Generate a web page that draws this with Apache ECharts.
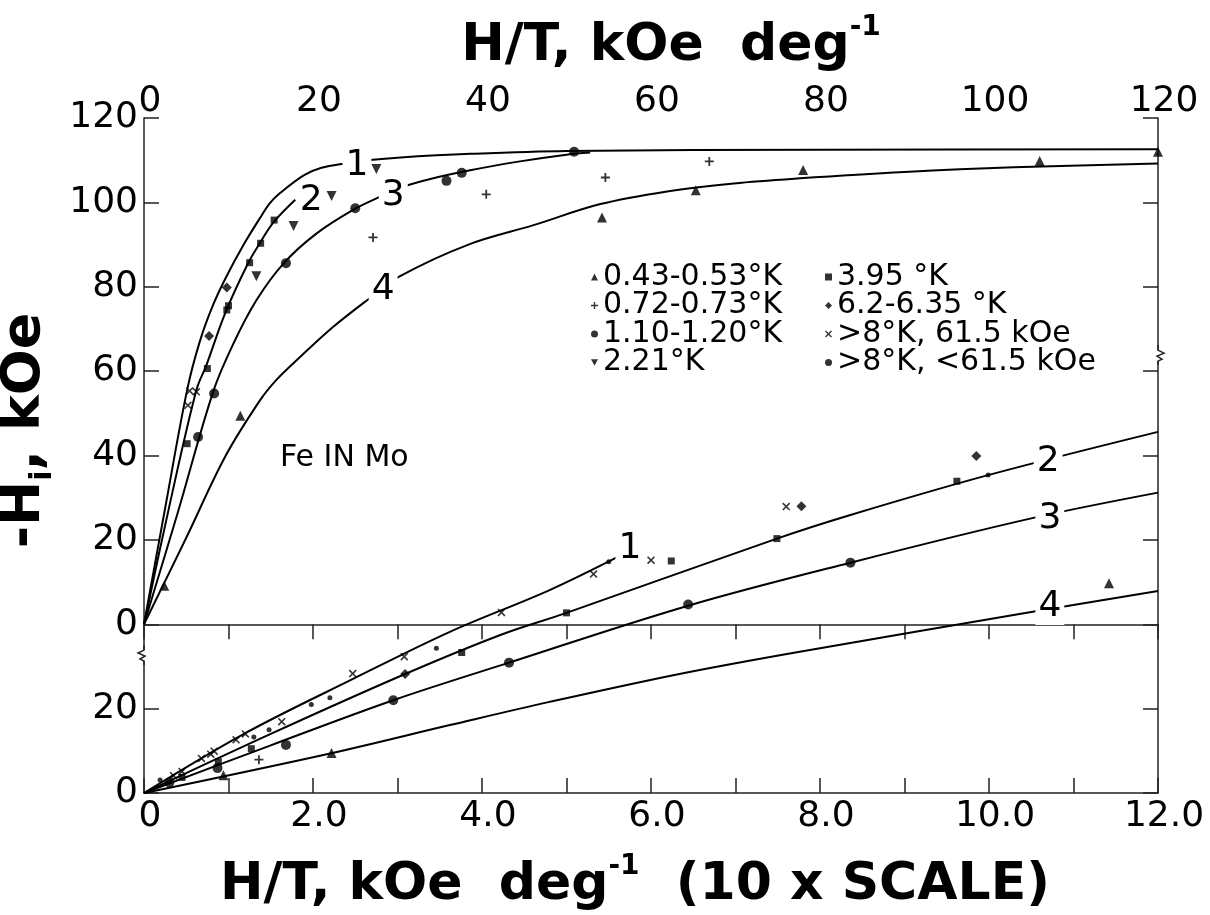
<!DOCTYPE html>
<html>
<head>
<meta charset="utf-8">
<script src="https://cdn.jsdelivr.net/npm/echarts@6/dist/echarts.min.js"></script>
<style>
html, body { margin: 0; background: #fff; }
#main { width: 1210px; height: 915px; }
</style>
</head>
<body>
<div id="main"></div>
<script>
// upper set: top scale H/T (0-120), -Hi (upper scale 0-120)
var curveU1 = [[0,0],[2.5,27.5],[5.1,55.5],[6.6,67],[8.2,75.8],[9.8,82.6],[11.8,90],[13.7,96.2],[14.9,99.8],[16.1,102.2],[18.9,106.4],[21,108.2],[24,109.3],[26.4,110],[30,110.6],[38.6,111.5],[50,112.2],[80,112.5],[120,112.6]];
var curveU2 = [[0,0],[3,28],[6.2,55.5],[7.4,61.5],[9.6,73.7],[12.3,85.5],[13.7,90.3],[15.3,95.2],[17.9,100.6]];
var curveU3 = [[0,0],[4,26.5],[8.2,55.2],[10.6,66.6],[13.3,76.8],[16.5,85.5],[20.4,92.6],[25,98.5],[27.9,101.3],[30.7,103.7],[34,105.6],[38.6,107.6],[44.1,109.6],[50,111.3],[52.8,111.8]];
var curveU4 = [[0,0],[5,20.5],[9.6,39.7],[13.7,53],[15.7,58],[18.5,63.4],[22.4,70.5],[26.4,76.8],[30.3,82.5],[38.4,90],[46.1,94.6],[54,99.6],[61.9,102.6],[69.8,104.5],[77.6,105.7],[90,107.2],[102.9,108.3],[120,109.2]];
var labelU = [['1',25.2,108.8],['2',19.8,100.5],['3',29.5,101.7],['4',28.3,79.2]];

// lower set: bottom scale H/T (0-12, 10 x scale), -Hi lower scale
var curveL1 = [[0,0],[1.2,14.2],[2.48,27.1],[3.62,38.2],[4.8,48.1],[5.63,56.2]];
var curveL2 = [[0,0],[1.5,14],[3.09,28.2],[4.21,37.4],[5,42.7],[7.49,60.3],[8.36,65.9],[10,75.4],[12,85.6]];
var curveL3 = [[0,0],[1.5,11.3],[2.95,22],[4.32,30.9],[6.44,44.4],[8.36,54.6],[10.5,65.1],[12,71.2]];
var curveL4 = [[0,0],[2.23,9.5],[3.62,16.1],[4.8,21.6],[6.38,28.4],[7.76,33.5],[10.5,42.9],[12,47.9]];
var labelL = [['1',5.75,58.0],['2',10.7,78.5],['3',10.72,65.1],['4',10.72,44.1]];

// measured points, by temperature
var names = ['0.43-0.53°K','0.72-0.73°K','1.10-1.20°K','2.21°K','3.95 °K','6.2-6.35 °K','>8°K, 61.5 kOe','>8°K, <61.5 kOe'];
var ptsU = [
  [[2.4,9.1],[11.4,49.4],[54.2,96.4],[65.3,102.9],[78.0,107.7],[106.0,109.8],[120,112]],
  [[27.1,91.7],[40.5,101.9],[54.6,105.9],[66.9,109.7]],
  [[6.4,44.4],[8.3,54.7],[16.8,85.6],[25.0,98.6],[35.8,105.1],[37.6,107.0],[50.9,112.0]],
  [[13.3,82.5],[17.7,94.4],[22.2,101.5],[27.5,107.9]],
  [[5.1,42.8],[7.5,60.6],[9.8,74.5],[10.0,75.5],[12.5,85.7],[13.8,90.3],[15.4,95.8]],
  [[7.7,68.3],[9.8,79.8]],
  [[5.2,51.9],[5.4,55.3],[6.2,55.1]],
  []
];
var ptsL = [
  [[0.94,4.2],[2.22,9.5],[11.42,49.7]],
  [[1.36,7.9]],
  [[0.3,2.5],[0.87,5.9],[1.68,11.4],[2.95,22.0],[4.32,30.9],[6.44,44.7],[8.36,54.6]],
  [],
  [[0.45,3.7],[0.88,7.4],[1.27,10.5],[3.76,33.3],[5.0,42.7],[6.24,55.0],[7.49,60.3],[9.62,73.9]],
  [[3.09,28.2],[7.78,68.0],[9.85,79.9]],
  [[0.35,4.1],[0.45,5.1],[0.68,8.2],[0.79,9.2],[0.83,9.9],[1.09,12.6],[1.20,14.0],[1.63,16.9],[2.47,28.3],[3.08,32.3],[4.23,42.8],[5.32,51.9],[6.0,55.2],[7.6,67.9]],
  [[0.19,3.1],[1.30,13.3],[1.48,15.0],[1.98,21.0],[2.20,22.6],[3.46,34.3],[5.50,54.8],[9.99,75.4]]
];
var symbols = ['triangle','path://M4,0h2v10h-2z M0,4h10v2h-10z','circle','path://M0,0 L10,0 L5,9 Z','rect','diamond',
  'path://M0,1.4 L1.4,0 L10,8.6 L8.6,10 Z M8.6,0 L10,1.4 L1.4,10 L0,8.6 Z','circle'];
var sizes = [10, 9, 10, 10, 7, 10, 8, 5];

var FONT = 'DejaVu Sans';
var chart = echarts.init(document.getElementById('main'));

function curve(data, labels, upper) {
  return {
    type: 'line',
    xAxisIndex: upper ? 1 : 0,
    yAxisIndex: upper ? 1 : 0,
    data: data,
    showSymbol: false,
    smooth: 0.35,
    lineStyle: { color: '#000', width: 2 },
    z: 2,
    markPoint: {
      symbol: 'rect', symbolSize: 1,
      itemStyle: { color: 'rgba(0,0,0,0)' },
      label: { show: true, position: 'inside', formatter: '{b}', color: '#000', fontSize: 36,
        fontFamily: FONT, backgroundColor: '#fff', padding: [0, 3] },
      data: [{ name: labels[0], coord: [labels[1], labels[2]] }]
    }
  };
}

var series = [];
[curveU1, curveU2, curveU3, curveU4].forEach(function (c, i) { series.push(curve(c, labelU[i], true)); });
[curveL1, curveL2, curveL3, curveL4].forEach(function (c, i) { series.push(curve(c, labelL[i], false)); });
names.forEach(function (n, i) {
  [true, false].forEach(function (upper) {
    series.push({
      name: n, type: 'scatter',
      xAxisIndex: upper ? 1 : 0, yAxisIndex: upper ? 1 : 0,
      symbol: symbols[i], symbolSize: sizes[i],
      itemStyle: { color: '#000' },
      data: upper ? ptsU[i] : ptsL[i], z: 5
    });
  });
});

var tickStyle = { inside: true, length: 15, lineStyle: { color: '#222', width: 1.5 } };
var lineStyle = { show: true, lineStyle: { color: '#222', width: 1.5 } };
var labelStyle = { color: '#000', fontSize: 36, fontFamily: FONT };
function titleRich(size) {
  return {
    t: { fontSize: size, fontWeight: 'bold', fontFamily: FONT, color: '#000', lineHeight: size + 12 },
    sup: { fontSize: 28, fontWeight: 'bold', fontFamily: FONT, color: '#000', verticalAlign: 'top', lineHeight: 20 },
    sub: { fontSize: 30, fontWeight: 'bold', fontFamily: FONT, color: '#000', verticalAlign: 'bottom', lineHeight: 20 }
  };
}

var legendBase = {
  orient: 'vertical', itemGap: -1.5, itemWidth: 7, itemHeight: 7, selectedMode: false,
  textStyle: { fontSize: 30, color: '#000', fontFamily: FONT }
};

var option = {
  backgroundColor: '#fff',
  animation: false,
  grid: { left: 144, right: 52, top: 118, bottom: 122, containLabel: false, outerBoundsMode: 'none' },
  legend: [
    Object.assign({ data: names.slice(0, 4), left: 586, top: 257 }, legendBase),
    Object.assign({ data: names.slice(4), left: 820, top: 257 }, legendBase)
  ],
  xAxis: [
    {
      type: 'value', position: 'bottom', min: 0, max: 12, interval: 1,
      axisLine: lineStyle, axisTick: tickStyle, splitLine: { show: false },
      axisLabel: Object.assign({ margin: 6, padding: [0, 0, 0, 12],
        formatter: function (v) { return v === 0 ? '0' : (Math.round(v) % 2 === 0 ? v.toFixed(1) : ''); } }, labelStyle),
      name: '{t|H/T, kOe  deg}{sup|-1}{t|  (10 x SCALE)}',
      nameLocation: 'middle', nameGap: 60,
      nameTextStyle: { rich: titleRich(52), padding: [0, 32, 0, 0] }
    },
    {
      type: 'value', position: 'top', min: 0, max: 120, interval: 10,
      axisLine: lineStyle, axisTick: tickStyle, splitLine: { show: false },
      axisLabel: Object.assign({ margin: -2, padding: [0, 0, 0, 12],
        formatter: function (v) { return Math.round(v) % 20 === 0 ? String(v) : ''; } }, labelStyle),
      name: '{t|H/T, kOe  deg}{sup|-1}',
      nameLocation: 'middle', nameGap: 40,
      nameTextStyle: { rich: titleRich(52), padding: [0, 0, 0, 40] }
    }
  ],
  yAxis: [
    {
      type: 'value', position: 'left', min: 0, max: 160, interval: 20,
      axisLine: lineStyle, axisTick: tickStyle, splitLine: { show: false },
      axisLabel: Object.assign({ margin: 6, formatter: function (v) { return v < 40 ? String(v) : ''; } }, labelStyle),
      name: '{t|-H}{sub|i}{t|, kOe}',
      nameLocation: 'middle', nameGap: 86,
      nameTextStyle: { rich: titleRich(54), padding: [0, 0, 0, 50] }
    },
    {
      type: 'value', position: 'left', min: -40, max: 120, interval: 20,
      axisLine: { show: false }, axisTick: { show: false }, splitLine: { show: false },
      axisLabel: Object.assign({ margin: 6, formatter: function (v) { return v >= 0 ? String(v) : ''; } }, labelStyle)
    },
    {
      type: 'value', position: 'right', min: 0, max: 160, interval: 20,
      axisLine: lineStyle, axisTick: tickStyle, splitLine: { show: false },
      axisLabel: { show: false }
    }
  ],
  graphic: [
    { type: 'text', left: 280, top: 443, style: { text: 'Fe IN Mo', fontSize: 30, fontFamily: FONT, fill: '#000' } }
  ],
  series: series
};

chart.setOption(option);

// axis break marks
function breakMark(xPos, yVal, dir) {
  var p = chart.convertToPixel({ xAxisIndex: 0, yAxisIndex: 0 }, [xPos, yVal]);
  var x = p[0], y = p[1];
  return [
    { type: 'rect', shape: { x: x - 2, y: y - 5, width: 4, height: 11 }, style: { fill: '#fff' }, z: 100 },
    { type: 'polyline', z: 101,
      shape: { points: [[x, y - 10], [x, y - 5], [x + dir * 6, y - 2], [x - dir * 1, y + 1], [x + dir * 4, y + 4], [x, y + 6], [x, y + 10]] },
      style: { stroke: '#222', lineWidth: 1.5, fill: null } }
  ];
}
chart.setOption({
  graphic: option.graphic.concat(breakMark(0, 32.7, -1), breakMark(12, 103.8, 1))
});
</script>
</body>
</html>
